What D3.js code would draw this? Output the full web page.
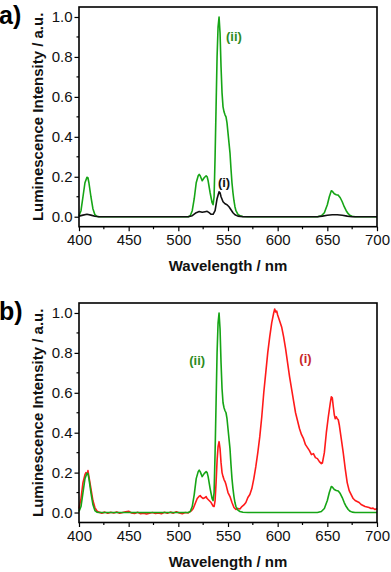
<!DOCTYPE html>
<html>
<head>
<meta charset="utf-8">
<script src="https://cdn.jsdelivr.net/npm/d3@7"></script>
<style>
  html, body { margin: 0; padding: 0; background: #fff; }
  svg { display: block; font-family: "Liberation Sans", Arial, sans-serif; }
</style>
</head>
<body>
<div id="chart"></div>
<script>
/* ---- Data ---- */
var xTicks = [400, 450, 500, 550, 600, 650, 700];
var yTicks = [0.0, 0.2, 0.4, 0.6, 0.8, 1.0];

/* (ii) green spectrum, used in both panels */
var greenWl = [400, 402, 404, 406, 408, 409, 410, 412, 414, 416, 418, 420, 510, 512, 514, 516, 518, 520, 521, 522, 524, 526, 528, 529, 530, 532, 534, 535, 536, 537, 538, 539, 540, 541, 542, 543, 544, 545, 546, 547, 548, 549, 550, 551, 552, 553, 554, 555, 556, 557, 558, 560, 562, 565, 570, 640, 644, 647, 650, 652, 654, 655, 657, 659, 661, 663, 665, 667, 669, 671, 673, 675, 678, 700];
var greenVal = [0.005, 0.03, 0.10, 0.17, 0.197, 0.195, 0.17, 0.10, 0.04, 0.01, 0.002, 0, 0, 0.005, 0.03, 0.09, 0.17, 0.205, 0.212, 0.205, 0.18, 0.195, 0.205, 0.20, 0.18, 0.12, 0.07, 0.06, 0.10, 0.30, 0.55, 0.80, 0.95, 1.0, 0.92, 0.75, 0.62, 0.55, 0.525, 0.51, 0.50, 0.47, 0.42, 0.37, 0.32, 0.24, 0.17, 0.12, 0.08, 0.05, 0.03, 0.012, 0.005, 0.001, 0, 0, 0.005, 0.02, 0.06, 0.10, 0.13, 0.128, 0.115, 0.11, 0.108, 0.095, 0.075, 0.05, 0.03, 0.015, 0.006, 0.002, 0, 0];

/* (i) black spectrum, panel a */
var blackWl = [400, 404, 408, 412, 416, 420, 510, 514, 518, 521, 524, 527, 529, 531, 533, 535, 537, 539, 541, 542, 543, 545, 547, 549, 551, 553, 555, 557, 560, 565, 640, 645, 650, 655, 660, 665, 670, 675, 700];
var blackVal = [0.003, 0.008, 0.012, 0.008, 0.002, 0, 0, 0.005, 0.02, 0.026, 0.022, 0.025, 0.027, 0.02, 0.012, 0.012, 0.03, 0.09, 0.125, 0.12, 0.10, 0.075, 0.065, 0.06, 0.05, 0.035, 0.02, 0.01, 0.003, 0, 0, 0.003, 0.007, 0.01, 0.01, 0.007, 0.003, 0, 0];

/* (i) red spectrum, panel b */
var redWl = [400, 402, 404, 406, 407, 408, 409, 410, 412, 414, 416, 418, 420, 423, 426, 429, 432, 435, 438, 441, 444, 447, 450, 453, 456, 459, 462, 465, 468, 471, 474, 477, 480, 483, 486, 489, 492, 495, 498, 501, 504, 507, 510, 513, 515, 517, 519, 521, 522, 523, 525, 527, 528, 529, 531, 533, 535, 536, 537, 538, 539, 540, 541, 542, 543, 544, 545, 546, 547, 548, 549, 550, 552, 554, 556, 558, 560, 562, 564, 566, 568, 570, 572, 574, 576, 578, 580, 582, 584, 586, 588, 590, 592, 594, 596, 597, 598, 599, 600, 602, 604, 606, 608, 610, 612, 614, 616, 618, 620, 622, 624, 626, 628, 630, 632, 634, 636, 638, 640, 642, 644, 645, 647, 649, 651, 653, 654, 655, 656, 657, 658, 659, 660, 661, 662, 664, 666, 668, 670, 672, 674, 676, 678, 680, 682, 684, 686, 688, 690, 692, 694, 696, 698, 700];
var redVal = [0.02, 0.07, 0.15, 0.19, 0.20, 0.19, 0.21, 0.18, 0.12, 0.06, 0.025, 0.008, 0.002, -0.003, 0.002, -0.004, 0.001, -0.002, 0.003, -0.004, 0.0, 0.004, 0.006, -0.002, -0.005, 0.001, -0.006, -0.003, -0.007, -0.004, 0.0, -0.005, -0.002, -0.006, 0.001, -0.004, 0.002, -0.003, 0.004, -0.002, -0.006, 0.0, -0.002, 0.008, 0.02, 0.045, 0.07, 0.082, 0.085, 0.078, 0.07, 0.075, 0.08, 0.07, 0.06, 0.05, 0.032, 0.03, 0.06, 0.15, 0.26, 0.33, 0.355, 0.32, 0.25, 0.20, 0.18, 0.165, 0.155, 0.14, 0.12, 0.10, 0.08, 0.05, 0.025, 0.015, 0.02, 0.018, 0.03, 0.038, 0.05, 0.075, 0.09, 0.12, 0.17, 0.23, 0.30, 0.38, 0.48, 0.60, 0.70, 0.80, 0.88, 0.95, 1.0, 1.02, 1.005, 1.01, 0.99, 0.96, 0.93, 0.88, 0.82, 0.75, 0.68, 0.62, 0.56, 0.50, 0.46, 0.42, 0.39, 0.37, 0.34, 0.325, 0.31, 0.29, 0.295, 0.275, 0.27, 0.255, 0.245, 0.248, 0.30, 0.40, 0.48, 0.55, 0.58, 0.575, 0.53, 0.49, 0.47, 0.48, 0.47, 0.465, 0.44, 0.37, 0.30, 0.22, 0.15, 0.11, 0.09, 0.07, 0.06, 0.055, 0.05, 0.04, 0.035, 0.03, 0.028, 0.025, 0.02, 0.022, 0.015, 0.02];

var GREEN = "#16a516", BLACK = "#111", RED = "#ff1a1a";

(function () {
  "use strict";

  var W = 391, H = 572;
  var ml = 79, mr = 14;

  var svg = d3.select("#chart").append("svg")
    .attr("width", W).attr("height", H);

  function zip(xs, ys) {
    return xs.map(function (x, i) { return [x, ys[i]]; });
  }

  function drawPanel(top, bottom, tag, series, labels) {
    var x = d3.scaleLinear().domain([400, 700]).range([ml, W - mr]);
    var y = d3.scaleLinear().domain([-0.05, 1.05]).range([bottom, top]);
    var g = svg.append("g");

    /* Series */
    var line = d3.line()
      .x(function (d) { return x(d[0]); })
      .y(function (d) { return y(d[1]); });
    series.forEach(function (s) {
      g.append("path")
        .datum(zip(s.wl, s.val))
        .attr("fill", "none")
        .attr("stroke", s.color)
        .attr("stroke-width", 1.6)
        .attr("stroke-linejoin", "round")
        .attr("d", line);
    });

    /* Minor ticks */
    d3.range(425, 700, 50).forEach(function (v) {
      g.append("line")
        .attr("x1", x(v)).attr("x2", x(v))
        .attr("y1", bottom).attr("y2", bottom + 2.5)
        .attr("stroke", "#000").attr("stroke-width", 1.2);
    });
    [0.1, 0.3, 0.5, 0.7, 0.9].forEach(function (v) {
      g.append("line")
        .attr("x1", ml - 2.5).attr("x2", ml)
        .attr("y1", y(v)).attr("y2", y(v))
        .attr("stroke", "#000").attr("stroke-width", 1.2);
    });

    /* Axes */
    var xa = g.append("g")
      .attr("transform", "translate(0," + bottom + ")")
      .call(d3.axisBottom(x).tickValues(xTicks).tickSize(4.5).tickPadding(3)
        .tickFormat(d3.format("d")));
    var ya = g.append("g")
      .attr("transform", "translate(" + ml + ",0)")
      .call(d3.axisLeft(y).tickValues(yTicks).tickSize(4.5).tickPadding(2)
        .tickFormat(d3.format(".1f")));
    [xa, ya].forEach(function (a) {
      a.select(".domain").remove();
      a.selectAll(".tick line").attr("stroke", "#000").attr("stroke-width", 1.2);
      a.selectAll(".tick text")
        .attr("fill", "#111")
        .style("font-size", "15px")
        .style("font-family", "'Liberation Sans', Arial, sans-serif");
    });

    /* Frame */
    g.append("rect")
      .attr("x", ml).attr("y", top)
      .attr("width", W - mr - ml).attr("height", bottom - top)
      .attr("fill", "none").attr("stroke", "#000").attr("stroke-width", 1.6);

    /* Axis titles */
    g.append("text")
      .attr("x", (ml + W - mr) / 2).attr("y", bottom + 44)
      .attr("text-anchor", "middle")
      .attr("font-size", 15).attr("font-weight", "bold").attr("fill", "#111")
      .text("Wavelength / nm");
    g.append("text")
      .attr("transform", "translate(43," + ((top + bottom) / 2) + ") rotate(-90)")
      .attr("text-anchor", "middle")
      .attr("font-size", 15).attr("font-weight", "bold").attr("fill", "#111")
      .text("Luminescence Intensity / a.u.");

    /* Panel tag */
    g.append("text")
      .attr("x", -1).attr("y", top + 17)
      .attr("font-size", 25).attr("font-weight", "bold").attr("fill", "#000")
      .text(tag);

    /* Series labels */
    labels.forEach(function (l) {
      g.append("text")
        .attr("x", x(l.wl)).attr("y", y(l.val))
        .attr("text-anchor", "middle")
        .attr("dominant-baseline", "central")
        .attr("font-size", 13).attr("font-weight", "bold")
        .attr("fill", l.color)
        .text(l.text);
    });
  }

  drawPanel(7, 226.7, "a)",
    [{ wl: greenWl, val: greenVal, color: GREEN },
     { wl: blackWl, val: blackVal, color: BLACK }],
    [{ text: "(ii)", wl: 556, val: 0.9, color: "#2e8b22" },
     { text: "(i)", wl: 546, val: 0.17, color: "#111" }]);

  drawPanel(303, 522.5, "b)",
    [{ wl: redWl, val: redVal, color: RED },
     { wl: greenWl, val: greenVal, color: GREEN }],
    [{ text: "(ii)", wl: 519, val: 0.76, color: "#2e8b22" },
     { text: "(i)", wl: 628, val: 0.77, color: "#c8262a" }]);
})();
</script>
</body>
</html>
